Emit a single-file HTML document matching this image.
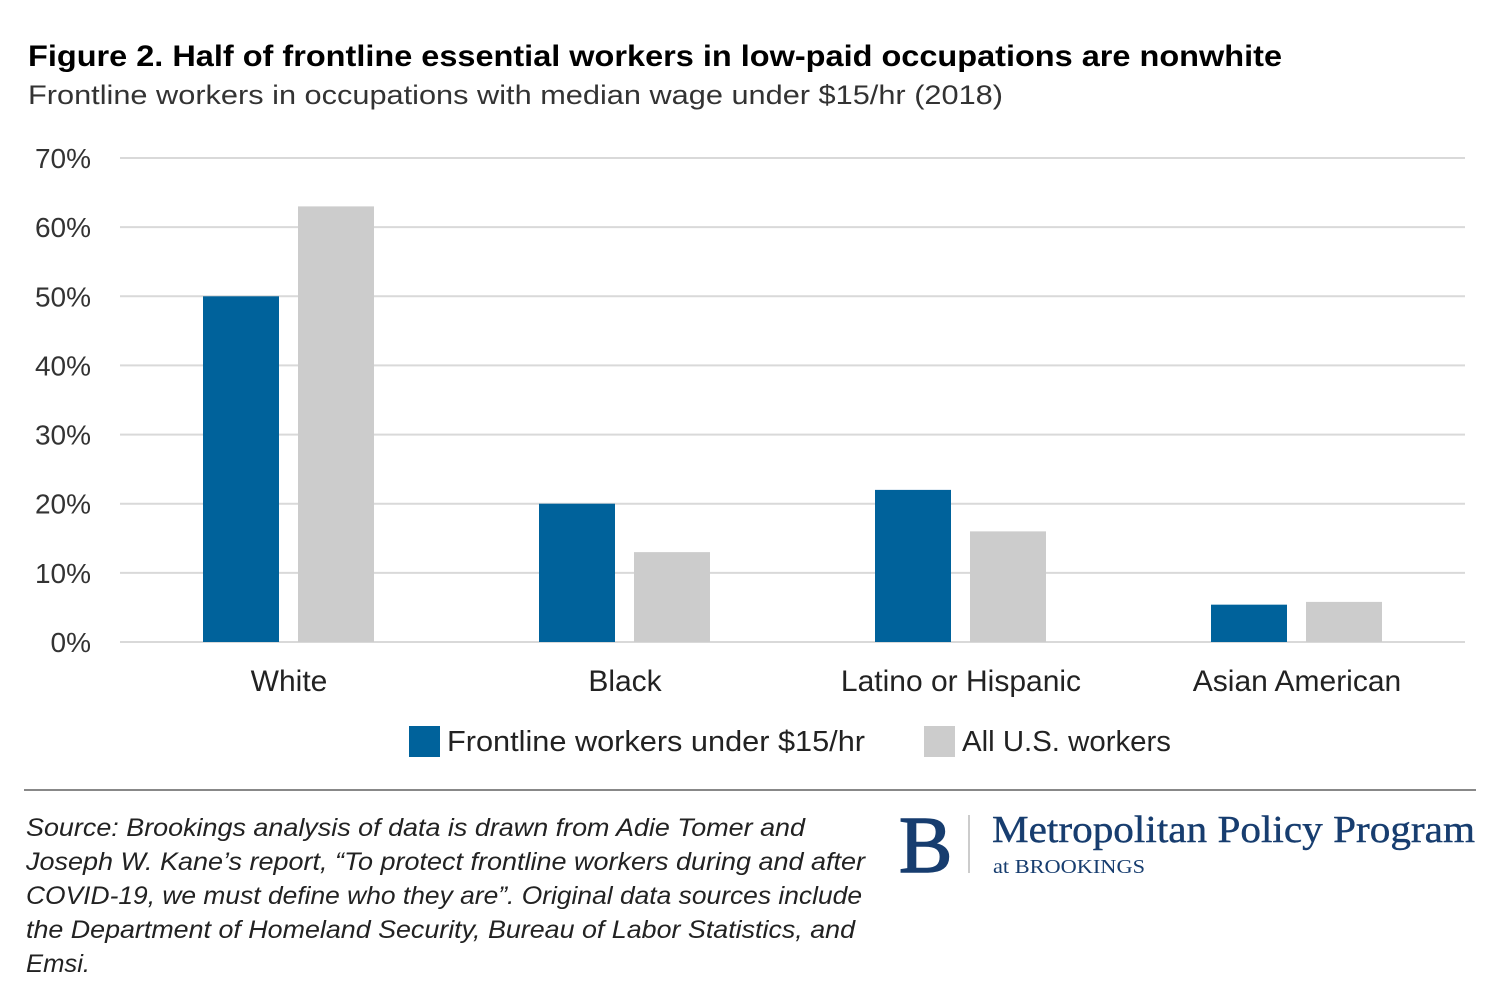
<!DOCTYPE html>
<html><head><meta charset="utf-8"><style>
html,body{margin:0;padding:0;background:#fff;}
svg{display:block;font-family:"Liberation Sans",sans-serif;}
</style></head><body>
<svg id="c" width="1500" height="989" viewBox="0 0 1500 989">
<text x="28" y="66" font-size="30" font-weight="bold" fill="#000" textLength="1254" lengthAdjust="spacingAndGlyphs">Figure 2. Half of frontline essential workers in low-paid occupations are nonwhite</text>
<text x="28" y="104" font-size="27" fill="#333" textLength="975" lengthAdjust="spacingAndGlyphs">Frontline workers in occupations with median wage under $15/hr (2018)</text>
<g id="grid"></g>
<g id="bars"></g>
<g id="xlabels"></g>
<g>
<rect x="409" y="726" width="31" height="31" fill="#00629b"/>
<text x="447" y="751" font-size="29" fill="#222" textLength="418" lengthAdjust="spacingAndGlyphs">Frontline workers under $15/hr</text>
<rect x="924" y="726" width="31" height="31" fill="#cccccc"/>
<text x="962" y="751" font-size="29" fill="#222" textLength="209" lengthAdjust="spacingAndGlyphs">All U.S. workers</text>
</g>
<line x1="24" y1="790" x2="1476" y2="790" stroke="#888" stroke-width="2"/>
<g font-size="25" font-style="italic" fill="#222">
<text x="26" y="836" textLength="779" lengthAdjust="spacingAndGlyphs">Source: Brookings analysis of data is drawn from Adie Tomer and</text>
<text x="26" y="870" textLength="839" lengthAdjust="spacingAndGlyphs">Joseph W. Kane’s report, “To protect frontline workers during and after</text>
<text x="26" y="904" textLength="836" lengthAdjust="spacingAndGlyphs">COVID-19, we must define who they are”. Original data sources include</text>
<text x="26" y="938" textLength="829" lengthAdjust="spacingAndGlyphs">the Department of Homeland Security, Bureau of Labor Statistics, and</text>
<text x="26" y="972" textLength="64" lengthAdjust="spacingAndGlyphs">Emsi.</text>
</g>
<g fill="#173d6f" font-family="'Liberation Serif',serif">
<text x="899" y="872" font-size="80" stroke="#173d6f" stroke-width="1.5">B</text>
<line x1="969" y1="815" x2="969" y2="873" stroke="#bbb" stroke-width="1.5"/>
<text x="992" y="842" font-size="38" stroke="#173d6f" stroke-width="0.4" textLength="483" lengthAdjust="spacingAndGlyphs">Metropolitan Policy Program</text>
<text x="993" y="873" font-size="20" textLength="152" lengthAdjust="spacingAndGlyphs">at BROOKINGS</text>
</g>
</svg>
<script>
const categories = ["White","Black","Latino or Hispanic","Asian American"];
const frontline = [50,20,22,5.4];
const allWorkers = [63,13,16,5.8];
const ticks = [0,10,20,30,40,50,60,70];
const ns="http://www.w3.org/2000/svg";
const y0=642, pxPer=(642-158)/70;
const y=v=>y0-v*pxPer;
const groupX=i=>203+i*336;
const grid=document.getElementById('grid');
ticks.forEach(t=>{
  const l=document.createElementNS(ns,'line');
  l.setAttribute('x1',120);l.setAttribute('x2',1465);
  l.setAttribute('y1',y(t));l.setAttribute('y2',y(t));
  l.setAttribute('stroke','#d9d9d9');l.setAttribute('stroke-width',2);
  
  
  grid.appendChild(l);
  const tx=document.createElementNS(ns,'text');
  tx.setAttribute('x',91);tx.setAttribute('y',y(t)+10);
  tx.setAttribute('text-anchor','end');tx.setAttribute('font-size',28);tx.setAttribute('fill','#333');
  tx.textContent=t+'%';
  
  
  grid.appendChild(tx);
});
const bars=document.getElementById('bars');
const xl=document.getElementById('xlabels');
categories.forEach((c,i)=>{
  [[frontline[i],'#00629b',0,'bar-frontline'],[allWorkers[i],'#cccccc',95,'bar-all']].forEach(([v,col,off,nm])=>{
    const r=document.createElementNS(ns,'rect');
    r.setAttribute('x',groupX(i)+off);r.setAttribute('width',76);
    r.setAttribute('y',y(v));r.setAttribute('height',y0-y(v));
    r.setAttribute('fill',col);
    
    
    bars.appendChild(r);
  });
  const t=document.createElementNS(ns,'text');
  t.setAttribute('x',groupX(i)+86);t.setAttribute('y',691);
  t.setAttribute('text-anchor','middle');t.setAttribute('font-size',30);t.setAttribute('fill','#222');
  t.textContent=c;
  
  
  xl.appendChild(t);
});
</script>
</body></html>
